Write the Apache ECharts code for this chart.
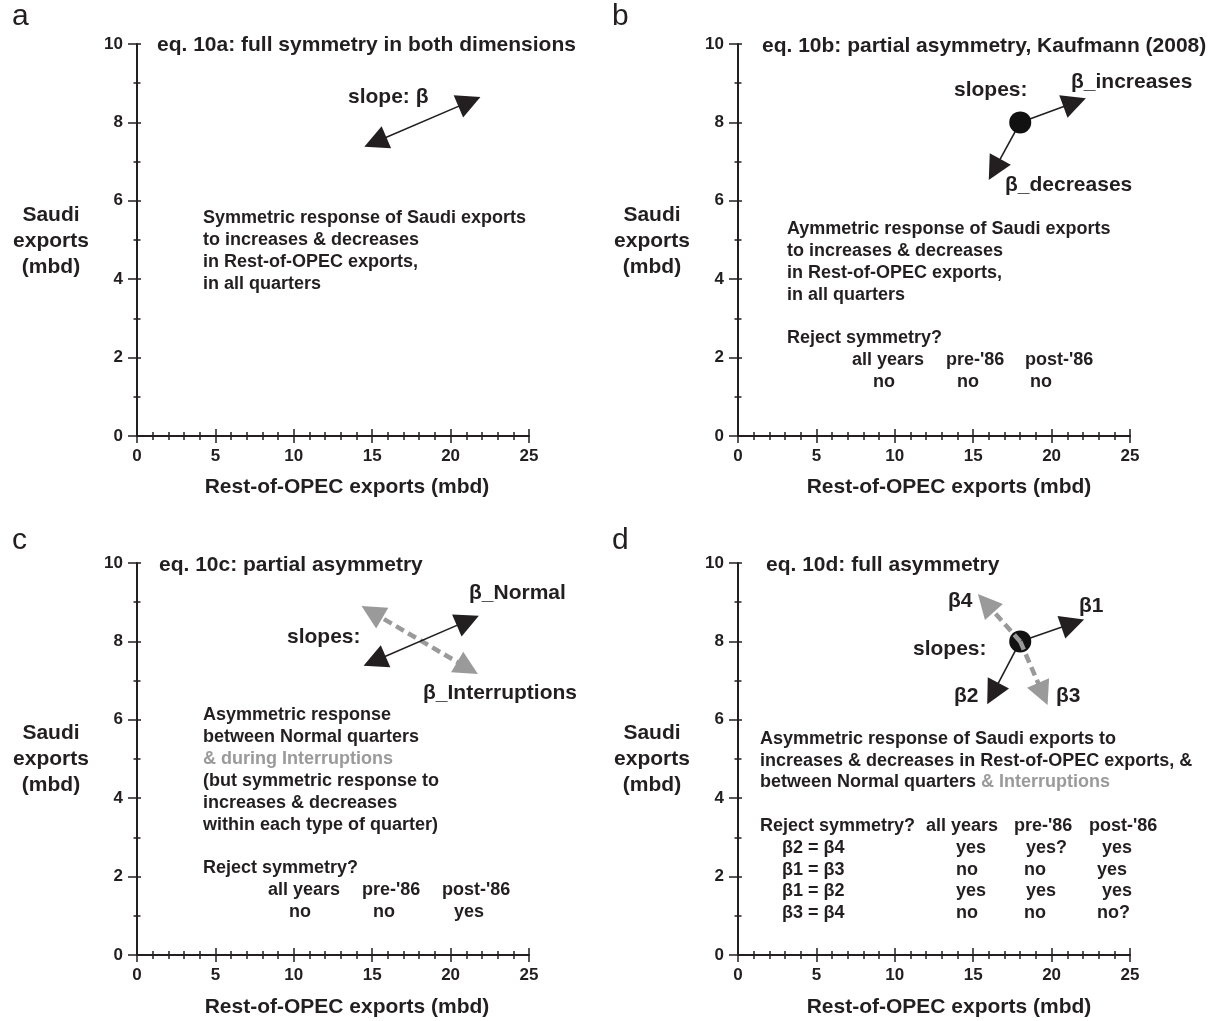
<!DOCTYPE html>
<html>
<head>
<meta charset="utf-8">
<script src="https://cdn.jsdelivr.net/npm/echarts@6/dist/echarts.min.js"></script>
<style>
html,body{margin:0;padding:0;background:#fff;}
#chart{width:1226px;height:1021px;}
</style>
</head>
<body>
<div id="chart"></div>
<script>
// ---------- data ----------
const xTicksLabel = [0, 5, 10, 15, 20, 25];
const yTicksLabel = [0, 2, 4, 6, 8, 10];
const panelLetters = ['a', 'b', 'c', 'd'];
const panelTitles = [
  'eq. 10a: full symmetry in both dimensions',
  'eq. 10b: partial asymmetry, Kaufmann (2008)',
  'eq. 10c: partial asymmetry',
  'eq. 10d: full asymmetry'
];
const xName = 'Rest-of-OPEC exports (mbd)';
const yName = 'Saudi\nexports\n(mbd)';

// arrow end points (data units: Rest-of-OPEC, Saudi)
const arrowA = [[15.2, 7.5], [21.2, 8.53]];
const originB = [18, 8];
const arrowBIncreases = [21.47, 8.51];
const arrowBDecreases = [16.36, 6.8];
const arrowCNormal = [[15.15, 7.5], [21.1, 8.53]];
const arrowCInterruptions = [[14.98, 8.75], [21.08, 7.32]];
const originD = [18, 8];
const arrowD1 = [21.35, 8.46];
const arrowD2 = [16.25, 6.67];
const arrowD3 = [19.44, 6.66];
const arrowD4 = [15.81, 8.98];

const textA = ['Symmetric response of Saudi exports', 'to increases & decreases', 'in Rest-of-OPEC exports,', 'in all quarters'];
const textB = ['Aymmetric response of Saudi exports', 'to increases & decreases', 'in Rest-of-OPEC exports,', 'in all quarters'];
const textC = ['Asymmetric response', 'between Normal quarters', '& during Interruptions', '(but symmetric response to', 'increases & decreases', 'within each type of quarter)'];
const textD1 = 'Asymmetric response of Saudi exports to';
const textD2 = 'increases & decreases in Rest-of-OPEC exports, &';
const textD3a = 'between Normal quarters ';
const textD3b = '& Interruptions';
const rejectLabel = 'Reject symmetry?';
const periods = ['all years', "pre-'86", "post-'86"];
const rejectB = ['no', 'no', 'no'];
const rejectC = ['no', 'no', 'yes'];
const testsD = ['β2 = β4', 'β1 = β3', 'β1 = β2', 'β3 = β4'];
const rejectD = [['yes', 'yes?', 'yes'], ['no', 'no', 'yes'], ['yes', 'yes', 'yes'], ['no', 'no', 'no?']];

// ---------- layout ----------
const FONT = "'Liberation Sans', Arial, Helvetica, sans-serif";
const INK = '#231f20';
const GREY = '#9a9a9a';
const grids = [
  {left: 137, top: 44, width: 392, height: 392},
  {left: 738, top: 44, width: 392, height: 392},
  {left: 137, top: 563, width: 392, height: 392},
  {left: 738, top: 563, width: 392, height: 392}
];

const xAxes = [], yAxes = [];
grids.forEach((g, i) => {
  const xBase = {
    gridIndex: i, type: 'value', min: 0, max: 25, interval: 5, position: 'bottom',
    splitLine: {show: false}
  };
  xAxes.push(Object.assign({}, xBase, {
    axisLine: {show: true, onZero: false, lineStyle: {color: INK, width: 2}},
    axisTick: {show: true, length: 7, lineStyle: {color: INK, width: 1.5}},
    minorTick: {show: true, splitNumber: 5, length: 4, lineStyle: {color: INK, width: 1.5}},
    axisLabel: {show: true, color: INK, fontFamily: FONT, fontWeight: 'bold', fontSize: 17, margin: 12,
      formatter: v => xTicksLabel.includes(v) ? String(v) : ''}
  }));
  xAxes.push(Object.assign({}, xBase, {
    axisLine: {show: false, onZero: false},
    axisTick: {show: true, inside: true, length: 7, lineStyle: {color: INK, width: 1.5}},
    minorTick: {show: true, splitNumber: 5, length: 4, lineStyle: {color: INK, width: 1.5}},
    axisLabel: {show: false}
  }));
  const yBase = {
    gridIndex: i, type: 'value', min: 0, max: 10, interval: 2, position: 'left',
    splitLine: {show: false}
  };
  yAxes.push(Object.assign({}, yBase, {
    axisLine: {show: true, onZero: false, lineStyle: {color: INK, width: 2}},
    axisTick: {show: true, length: 9, lineStyle: {color: INK, width: 1.5}},
    minorTick: {show: true, splitNumber: 2, length: 3.5, lineStyle: {color: INK, width: 1.5}},
    axisLabel: {show: true, color: INK, fontFamily: FONT, fontWeight: 'bold', fontSize: 17, margin: 14,
      formatter: v => yTicksLabel.includes(v) ? String(v) : ''}
  }));
  yAxes.push(Object.assign({}, yBase, {
    axisLine: {show: false, onZero: false},
    axisTick: {show: true, inside: true, length: 4, lineStyle: {color: INK, width: 1.5}},
    minorTick: {show: true, splitNumber: 2, length: 3.5, lineStyle: {color: INK, width: 1.5}},
    axisLabel: {show: false}
  }));
});

function arrowSeries(i, segs, symbols, color, dashed, z) {
  return {
    type: 'lines', coordinateSystem: 'cartesian2d', xAxisIndex: 2 * i, yAxisIndex: 2 * i,
    symbol: symbols, symbolSize: 24, silent: true, animation: false, z: z,
    lineStyle: {color: color, width: dashed ? 4.5 : 1.6, opacity: 1, type: dashed ? [9, 5] : 'solid', curveness: 0},
    data: segs.map(s => ({coords: s}))
  };
}
function dotSeries(i, p, z) {
  return {
    type: 'scatter', xAxisIndex: 2 * i, yAxisIndex: 2 * i, symbol: 'circle', symbolSize: 22,
    itemStyle: {color: '#111', opacity: 1, borderWidth: 0}, emphasis: {disabled: true},
    silent: true, animation: false, z: z, data: [p]
  };
}

const series = [
  arrowSeries(0, [arrowA], ['triangle', 'triangle'], INK, false, 3),
  arrowSeries(1, [[originB, arrowBIncreases], [originB, arrowBDecreases]], ['none', 'triangle'], INK, false, 3),
  dotSeries(1, originB, 4),
  arrowSeries(2, [arrowCInterruptions], ['triangle', 'triangle'], GREY, true, 3),
  arrowSeries(2, [arrowCNormal], ['triangle', 'triangle'], INK, false, 4),
  arrowSeries(3, [[originD, arrowD1], [originD, arrowD2]], ['none', 'triangle'], INK, false, 3),
  dotSeries(3, originD, 4),
  arrowSeries(3, [[originD, arrowD4], [originD, arrowD3]], ['none', 'triangle'], GREY, true, 5)
];

// ---------- text annotations ----------
const graphics = [];
function txt(x, y, text, size, opts) {
  opts = opts || {};
  graphics.push({
    type: 'text', x: x, y: y, silent: true,
    style: Object.assign({
      text: text, fill: opts.fill || INK, align: opts.align || 'left', verticalAlign: 'middle',
      fontFamily: FONT, fontWeight: opts.weight || 'bold', fontSize: size, lineHeight: opts.lineHeight
    }, opts.extra || {})
  });
}
// panel letters
[[12, 17], [612, 17], [12, 541], [612, 541]].forEach((p, i) => txt(p[0], p[1], panelLetters[i], 30, {weight: 'normal'}));
// titles
[[157, 45], [762, 46], [159, 565], [766, 565]].forEach((p, i) => txt(p[0], p[1], panelTitles[i], 21));
// axis names
[[347, 487], [949, 487], [347, 1007], [949, 1007]].forEach(p => txt(p[0], p[1], xName, 21, {align: 'center'}));
[[51, 241], [652, 241], [51, 759], [652, 759]].forEach(p => txt(p[0], p[1], yName, 21, {align: 'center', lineHeight: 26}));

// panel a
txt(348, 97, 'slope: β', 21);
textA.forEach((t, k) => txt(203, 218 + 22 * k, t, 18));
// panel b
txt(954, 90, 'slopes:', 21);
txt(1071, 82, 'β_increases', 21);
txt(1005, 185, 'β_decreases', 21);
textB.forEach((t, k) => txt(787, 229 + 22 * k, t, 18));
txt(787, 338, rejectLabel, 18);
[852, 946, 1025].forEach((x, k) => txt(x, 360, periods[k], 18));
[873, 957, 1030].forEach((x, k) => txt(x, 382, rejectB[k], 18));
// panel c
txt(469, 593, 'β_Normal', 21);
txt(287, 637, 'slopes:', 21);
txt(423, 693, 'β_Interruptions', 21);
textC.forEach((t, k) => txt(203, 715 + 22 * k, t, 18, {fill: k === 2 ? GREY : INK}));
txt(203, 868, rejectLabel, 18);
[268, 362, 442].forEach((x, k) => txt(x, 890, periods[k], 18));
[289, 373, 454].forEach((x, k) => txt(x, 912, rejectC[k], 18));
// panel d
txt(948, 601, 'β4', 21);
txt(1079, 606, 'β1', 21);
txt(913, 649, 'slopes:', 21);
txt(954, 696, 'β2', 21);
txt(1056, 696, 'β3', 21);
txt(760, 739, textD1, 18);
txt(760, 761, textD2, 18);
txt(760, 782, '{k|' + textD3a + '}{g|' + textD3b + '}', 18, {extra: {rich: {
  k: {fill: INK, fontFamily: FONT, fontWeight: 'bold', fontSize: 18},
  g: {fill: GREY, fontFamily: FONT, fontWeight: 'bold', fontSize: 18}
}}});
txt(760, 826, rejectLabel, 18);
[926, 1014, 1089].forEach((x, k) => txt(x, 826, periods[k], 18));
const colXD = [[956, 1026, 1102], [956, 1024, 1097], [956, 1026, 1102], [956, 1024, 1097]];
testsD.forEach((t, r) => {
  const y = 848 + 21.7 * r;
  txt(782, y, t, 18);
  rejectD[r].forEach((v, c) => txt(colXD[r][c], y, v, 18));
});

const chart = echarts.init(document.getElementById('chart'), null, {renderer: 'canvas'});
chart.setOption({
  backgroundColor: '#ffffff',
  animation: false,
  grid: grids,
  xAxis: xAxes,
  yAxis: yAxes,
  series: series,
  graphic: graphics
});
</script>
</body>
</html>
